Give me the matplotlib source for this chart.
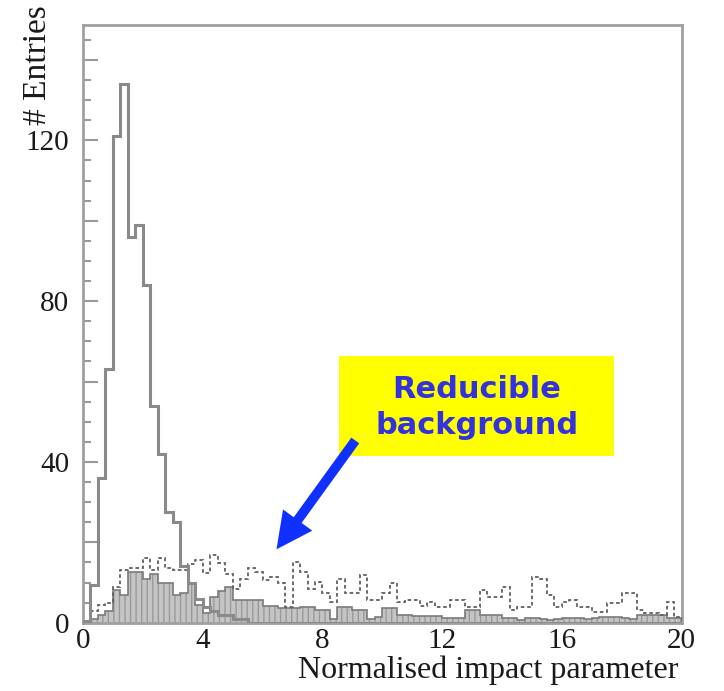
import numpy as np
import matplotlib.pyplot as plt
from matplotlib.patches import Rectangle, FancyArrowPatch
from matplotlib.ticker import MultipleLocator, FuncFormatter

# histogram binning: 80 bins of 0.25 between 0 and 20
bin_edges = np.linspace(0, 20, 81)

# signal (solid grey)
signal = [0.5, 9.5, 36, 63, 121, 134, 96, 99, 84, 54,
          42, 27.5, 25, 14, 10, 6, 4, 3, 2, 2,
          1, 1, 0, 0, 0, 0, 0, 0, 0, 0,
          0, 0, 0, 0, 0, 0, 0, 0, 0, 0,
          0, 0, 0, 0, 0, 0, 0, 0, 0, 0,
          0, 0, 0, 0, 0, 0, 0, 0, 0, 0,
          0, 0, 0, 0, 0, 0, 0, 0, 0, 0,
          0, 0, 0, 0, 0, 0, 0, 0, 0, 0]

# reducible background (dashed outline)
reducible = [0.5, 3, 4.5, 5, 9, 13, 13.5, 13.5, 16, 13,
             16, 13.5, 13, 13, 14.5, 15.5, 12.3, 16.8, 14.8, 12,
             8.5, 11, 13.5, 12.7, 10.6, 11.4, 9.8, 4, 15.2, 12.5,
             8.5, 10.2, 7.3, 5.2, 11, 7.3, 7.3, 11.9, 5.6, 5.6,
             7.5, 9.8, 5.2, 5.6, 5.6, 4.2, 5.2, 4, 4, 5.6,
             5.6, 4, 4, 8.1, 6.5, 6.5, 9, 3.2, 4, 4,
             11.4, 11, 6.9, 4, 5.2, 5.6, 4, 4, 2.7, 2.7,
             4.8, 4.8, 7.3, 7.3, 3.2, 2.3, 2.3, 1.9, 5.2, 1.5]

# irreducible background (filled)
irreducible = [0.3, 1, 1.8, 3, 8.1, 7, 12.7, 12.7, 11, 12,
               9.8, 9.8, 7, 7.3, 9.8, 4.4, 2.5, 6.5, 8, 9,
               5.6, 5.6, 5.6, 5.6, 4.1, 4.1, 3.6, 3.6, 3.6, 4,
               4, 3.2, 3.2, 1, 3.8, 3.8, 3.2, 3.2, 1, 1.5,
               3.6, 3.6, 1.9, 1.9, 1.7, 1.7, 1.7, 1.7, 1.1, 1.1,
               1.1, 3.2, 3.2, 1.9, 1.9, 1.9, 1.3, 1.3, 0.7, 1.1,
               1.1, 1.0, 0.8, 0.9, 1.1, 1.1, 1.1, 1.0, 1.1, 1.5,
               1.5, 1.5, 1.2, 1.0, 1.9, 1.9, 1.9, 1.9, 1.3, 1.3]

x_ticks = [0, 4, 8, 12, 16, 20]
y_labelled = [0, 40, 80, 120]

serif = "Liberation Serif"

fig = plt.figure(figsize=(7.24, 6.91), dpi=100)
ax = fig.add_axes([0.1146, 0.0988, 0.827, 0.865])

ax.stairs(irreducible, bin_edges, fill=True, facecolor="#c4c4c4",
          hatch="|||", edgecolor="#9a9a9a", lw=0, zorder=1)
ax.stairs(irreducible, bin_edges, color="#7a7a7a", lw=1.2, zorder=2)
ax.stairs(reducible, bin_edges, color="#606060", lw=1.3,
          linestyle=(0, (2, 1.5)), zorder=3)
ax.stairs(signal, bin_edges, color="#8a8a8a", lw=2.2, zorder=4)

ax.set_xlim(0, 20)
ax.set_ylim(0, 148.7)

ax.set_xticks(x_ticks)
ax.tick_params(axis="x", which="both", length=0, pad=4)

ax.yaxis.set_major_locator(MultipleLocator(20))
ax.yaxis.set_minor_locator(MultipleLocator(5))
ax.yaxis.set_major_formatter(
    FuncFormatter(lambda v, p: f"{int(v)}" if int(round(v)) in y_labelled else ""))
ax.tick_params(axis="y", which="major", direction="in", length=11, width=1.5,
               color="#999999", pad=10)
ax.tick_params(axis="y", which="minor", direction="in", length=6, width=1.5,
               color="#999999")

for lbl in ax.get_xticklabels() + ax.get_yticklabels():
    lbl.set_family(serif)
    lbl.set_fontsize(21)
    lbl.set_color("#1a1a1a")

for side in ["left", "top", "right", "bottom"]:
    ax.spines[side].set_color("#a0a0a0")
    ax.spines[side].set_linewidth(2)

fig.text(0.052, 0.993, "# Entries", rotation=90, ha="center", va="top",
         family=serif, fontsize=24, color="#1a1a1a")
fig.text(0.937, 0.008, "Normalised impact parameter", ha="right", va="bottom",
         family=serif, fontsize=23, color="#1a1a1a")

# annotation box with arrow
ax.add_patch(Rectangle((8.55, 41.5), 9.18, 24.8, facecolor="#ffff00",
                       edgecolor="none", zorder=5))
ax.text(13.16, 53.6, "Reducible\nbackground", ha="center", va="center",
        fontsize=22, fontweight="bold", color="#3333dd", family="DejaVu Sans",
        linespacing=1.3, zorder=6)
ax.add_patch(FancyArrowPatch((9.15, 45.9), (6.41, 17.7),
                             arrowstyle="simple,head_length=1.3,head_width=1.3,tail_width=0.35",
                             mutation_scale=20, color="#1030ff", lw=0, zorder=6))

fig.savefig("out.png", dpi=100)
